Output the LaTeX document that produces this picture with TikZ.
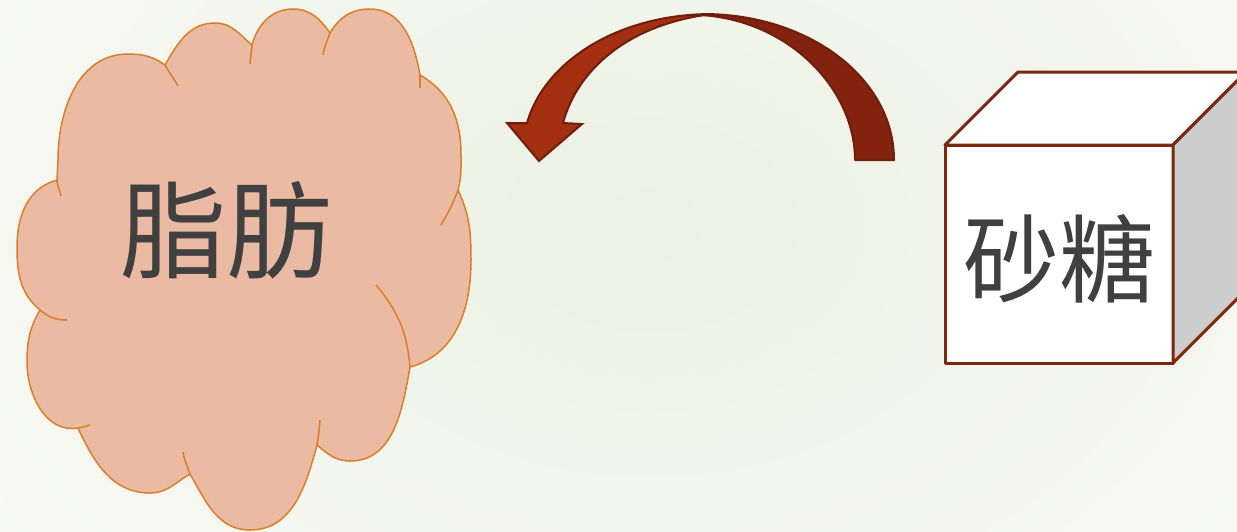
\documentclass[tikz,border=0pt]{standalone}
\usepackage{fontspec}
\newfontfamily\cjkfont{Noto Sans CJK SC}
\definecolor{bgin}{RGB}{236,241,227}
\definecolor{bgout}{RGB}{248,249,244}
\definecolor{cloudfill}{RGB}{234,186,163}
\definecolor{cloudline}{RGB}{219,126,40}
\definecolor{txt}{RGB}{64,64,64}
\definecolor{arrowlight}{RGB}{163,46,16}
\definecolor{arrowdark}{RGB}{131,35,13}
\definecolor{arrowline}{RGB}{112,30,12}
\definecolor{cubeline}{RGB}{122,40,16}
\definecolor{cubeside}{RGB}{205,205,205}
\begin{document}
\begin{tikzpicture}[x=0.5pt,y=-0.5pt,
  cloudedge/.style={draw=cloudline,line width=0.75pt},
  arrowpart/.style={draw=arrowline,line width=1pt,line join=round},
  cubeface/.style={draw=cubeline,line width=1.5pt,line join=round},
  bigtext/.style={text=txt,inner sep=0pt}]
\useasboundingbox (0,0) rectangle (1237,531);
\clip (0,0) rectangle (1237,531);
\shade[inner color=bgin,outer color=bgout] (-150,-350) rectangle (1450,800);

% cloud
\filldraw[cloudedge,fill=cloudfill] (57,180) to[out=195,in=90] (17,247) to[out=270,in=140] (40,310)
  to[out=240,in=90] (27,362) to[out=270,in=190] (78,428)
  to[out=295,in=180] (150,493) to[out=0,in=210] (190,474)
  to[out=300,in=180] (250,530) to[out=0,in=255] (317,445)
  to[out=320,in=180] (350,461) to[out=0,in=260] (410,367)
  to[out=15,in=270] (471,260) to[out=90,in=295] (458,190)
  to[out=75,in=270] (461,155) to[out=90,in=330] (420,75)
  to[out=100,in=0] (370,9) to[out=180,in=60] (330,33)
  to[out=125,in=0] (293,9) to[out=180,in=75] (252,45)
  to[out=140,in=0] (215,23) to[out=180,in=60] (165,65)
  to[out=145,in=0] (128,54) to[out=180,in=90] (58,160) -- cycle;
\draw[cloudedge] (57,180) to[out=270,in=100] (61,196);
\draw[cloudedge] (40,310) to[out=320,in=180] (67,320);
\draw[cloudedge] (78,428) to[out=10,in=200] (90,425);
\draw[cloudedge] (190,474) to[out=110,in=280] (183,452);
\draw[cloudedge] (317,445) to[out=80,in=265] (320,420);
\draw[cloudedge] (410,367) to[out=95,in=310] (376,285);
\draw[cloudedge] (458,190) to[out=250,in=60] (441,225);
\draw[cloudedge] (420,75) to[out=270,in=90] (420,88);
\draw[cloudedge] (330,33) to[out=250,in=80] (323,55);
\draw[cloudedge] (252,45) to[out=265,in=85] (250,64);
\draw[cloudedge] (165,65) to[out=300,in=120] (178,86);
\node[bigtext,font=\cjkfont\fontsize{53}{53}\selectfont] (fat) at (226,230) {脂肪};

% curved arrow
\filldraw[arrowpart,fill=arrowdark] (703,14) .. controls (810,14) and (894,79) .. (894,160)
  -- (855,160) .. controls (855,90) and (790,20) .. (700,15) -- cycle;
\filldraw[arrowpart,fill=arrowlight,line join=miter] (712,14) .. controls (620,14) and (545,60) .. (527,123)
  -- (507,123) -- (539,161) -- (582,124) -- (563,123)
  .. controls (578,68) and (630,24) .. (712,14) -- cycle;

% cube
\node[cubeface,fill=white,minimum width=114pt,minimum height=109pt,inner sep=0pt,outer sep=0pt] (sugar) at (1059,254) {};
\filldraw[cubeface,fill=white] (sugar.north west) -- ++(73,-73) -- ++(228,0) -- (sugar.north east) -- cycle;
\filldraw[cubeface,fill=cubeside] (sugar.north east) -- ++(73,-73) -- ++(0,218) -- (sugar.south east) -- cycle;
\node[bigtext,font=\cjkfont\fontsize{48}{48}\selectfont] (sugartext) at (1059,259) {砂糖};
\end{tikzpicture}
\end{document}
